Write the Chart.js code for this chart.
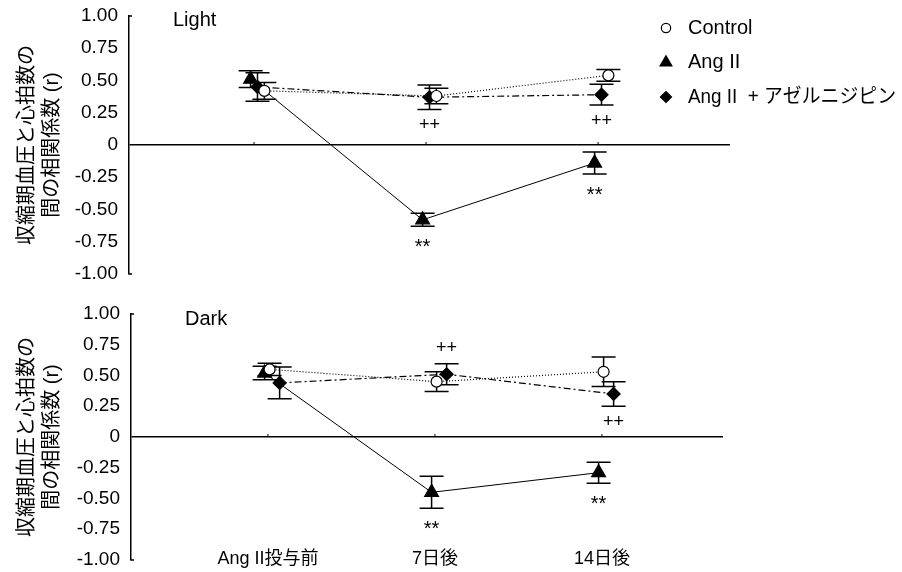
<!DOCTYPE html>
<html lang="ja">
<head>
  <meta charset="UTF-8">
  <title>収縮期血圧と心拍数の相関係数</title>
  <script src="https://cdn.jsdelivr.net/npm/chart.js"></script>
  <style>
    body { margin: 0; background: #fff; }
    .panel { position: absolute; left: 0; width: 902px; height: 286px; }
    #topPanel { top: 0; }
    #bottomPanel { top: 286px; }
  </style>
</head>
<body>
  <div class="panel" id="topPanel"><canvas id="lightChart" width="902" height="286"></canvas></div>
  <div class="panel" id="bottomPanel"><canvas id="darkChart" width="902" height="286"></canvas></div>

  <script>
    // categories and labels
    const categories = ['Ang II投与前', '7日後', '14日後'];
    const seriesNames = ['Control', 'Ang II', 'Ang II  + アゼルニジピン'];
    const yTicks = [1, 0.75, 0.5, 0.25, 0, -0.25, -0.5, -0.75, -1];
    const yTickLabels = ['1.00', '0.75', '0.50', '0.25', '0', '-0.25', '-0.50', '-0.75', '-1.00'];
    const yTitle = ['収縮期血圧と心拍数の', '間の相関係数 (r)'];

    // Light period: means and error bars
    const lightControl = [0.42, 0.38, 0.54];
    const lightControlErr = [0.065, 0.06, 0.045];
    const lightAngII = [0.51, -0.58, -0.14];
    const lightAngIIErr = [0.065, 0.05, 0.085];
    const lightAzel = [0.45, 0.37, 0.39];
    const lightAzelErr = [0.11, 0.095, 0.08];

    // Dark period
    const darkControl = [0.55, 0.45, 0.53];
    const darkControlErr = [0.05, 0.08, 0.12];
    const darkAngII = [0.52, -0.45, -0.29];
    const darkAngIIErr = [0.055, 0.13, 0.085];
    const darkAzel = [0.44, 0.51, 0.35];
    const darkAzelErr = [0.13, 0.085, 0.10];

    // significance marks: series index, category index, text, side of error bar
    const lightMarks = [
      { series: 2, cat: 1, text: '++', side: 'below' },
      { series: 1, cat: 1, text: '**', side: 'below' },
      { series: 2, cat: 2, text: '++', side: 'below' },
      { series: 1, cat: 2, text: '**', side: 'below' }
    ];
    const darkMarks = [
      { series: 2, cat: 1, text: '++', side: 'above' },
      { series: 1, cat: 1, text: '**', side: 'below' },
      { series: 2, cat: 2, text: '++', side: 'below' },
      { series: 1, cat: 2, text: '**', side: 'below' }
    ];

    const FONT = '"Liberation Sans", "Noto Sans CJK JP", sans-serif';

    // marker / line look per series
    const seriesStyle = [
      { pointStyle: 'circle', radius: 5.5, fill: '#fff', dash: [1, 2] },
      { pointStyle: 'triangle', radius: 8, fill: '#000', dash: [] },
      { pointStyle: 'rectRot', radius: 6.5, fill: '#000', dash: [7, 3, 2, 3] }
    ];

    // draws error bars, zero-line ticks, marks, panel label, legend, x labels
    const panelPlugin = {
      id: 'panelPlugin',
      beforeDatasetsDraw(chart) {
        const ctx = chart.ctx;
        const y = chart.scales.y;
        ctx.save();
        ctx.strokeStyle = '#000';
        ctx.lineWidth = 1.5;
        chart.data.datasets.forEach((ds, di) => {
          const meta = chart.getDatasetMeta(di);
          meta.data.forEach((pt, i) => {
            const v = ds.data[i].y, e = ds.errors[i];
            const top = y.getPixelForValue(v + e), bot = y.getPixelForValue(v - e);
            ctx.beginPath();
            ctx.moveTo(pt.x, top); ctx.lineTo(pt.x, bot);
            ctx.moveTo(pt.x - 12, top); ctx.lineTo(pt.x + 12, top);
            ctx.moveTo(pt.x - 12, bot); ctx.lineTo(pt.x + 12, bot);
            ctx.stroke();
          });
        });
        // small category ticks on the zero line
        const x = chart.scales.x;
        const y0 = y.getPixelForValue(0);
        ctx.lineWidth = 1;
        categories.forEach((c, i) => {
          const px = x.getPixelForValue(i);
          ctx.beginPath(); ctx.moveTo(px, y0); ctx.lineTo(px, y0 - 3); ctx.stroke();
        });
        // small stubs at the axis ends
        const ca = chart.chartArea;
        ctx.lineWidth = 1.5;
        ctx.beginPath();
        ctx.moveTo(ca.left, ca.top); ctx.lineTo(ca.left + 3, ca.top);
        ctx.moveTo(ca.left, ca.bottom); ctx.lineTo(ca.left + 3, ca.bottom);
        ctx.stroke();
        ctx.restore();
      },
      afterDatasetsDraw(chart, args, opts) {
        const ctx = chart.ctx;
        const y = chart.scales.y;
        ctx.save();
        ctx.fillStyle = '#000';
        ctx.textAlign = 'center';
        ctx.textBaseline = 'middle';
        opts.marks.forEach(m => {
          const ds = chart.data.datasets[m.series];
          const pt = chart.getDatasetMeta(m.series).data[m.cat];
          const v = ds.data[m.cat].y, e = ds.errors[m.cat];
          let py = m.side === 'below' ? y.getPixelForValue(v - e) + 16 : y.getPixelForValue(v + e) - 16;
          if (m.text === '**') {
            ctx.font = '20px ' + FONT;
            py += 5;
          } else {
            ctx.font = '18px ' + FONT;
          }
          ctx.fillText(m.text, pt.x, py);
        });

        // panel label
        ctx.textAlign = 'left';
        ctx.font = '20px ' + FONT;
        ctx.fillText(opts.label, opts.labelX, opts.labelY);

        // legend
        if (opts.legend) {
          chart.data.datasets.forEach((ds, di) => {
            const st = seriesStyle[di];
            const ly = 28 + di * 34.5;
            ctx.fillStyle = st.fill;
            ctx.strokeStyle = '#000';
            ctx.lineWidth = 1.2;
            Chart.helpers.drawPoint(ctx, { pointStyle: st.pointStyle, radius: st.radius * 0.85, borderWidth: 1.2, rotation: 0 }, 666, ly);
            ctx.fillStyle = '#000';
            ctx.font = '20px ' + FONT;
            ctx.fillText(seriesNames[di], 688, ly, 208);
          });
        }

        // category labels
        if (opts.xLabels) {
          const x = chart.scales.x;
          ctx.textAlign = 'center';
          ctx.font = '18px ' + FONT;
          categories.forEach((c, i) => {
            ctx.fillText(c, x.getPixelForValue(i), chart.chartArea.bottom - 1);
          });
        }
        ctx.restore();
      }
    };

    function makePanel(id, values, errors, jitter, layout, extra) {
      const datasets = values.map((vals, si) => {
        const st = seriesStyle[si];
        return {
          label: seriesNames[si],
          data: vals.map((v, i) => ({ x: i + jitter[si], y: v })),
          errors: errors[si],
          borderColor: '#000',
          borderWidth: si === 1 ? 1 : 1.2,
          borderDash: st.dash,
          pointStyle: st.pointStyle,
          pointRadius: st.radius,
          pointBackgroundColor: st.fill,
          pointBorderColor: '#000',
          pointBorderWidth: 1.2,
          tension: 0,
          fill: false,
          clip: false
        };
      });

      return new Chart(document.getElementById(id), {
        type: 'line',
        data: { datasets },
        options: {
          responsive: false,
          animation: false,
          events: [],
          layout: { padding: { top: layout.top, bottom: layout.bottom, left: 0, right: 902 - layout.right } },
          plugins: {
            legend: { display: false },
            tooltip: { enabled: false },
            panelPlugin: extra
          },
          scales: {
            x: { type: 'linear', display: false, min: layout.xMin, max: layout.xMax },
            y: {
              min: -1, max: 1,
              afterFit(s) {
                s.width = layout.axisX;
                s.paddingTop = 0;
                s.paddingBottom = 0;
              },
              afterBuildTicks(s) { s.ticks = yTicks.map(v => ({ value: v })); },
              ticks: {
                callback: v => yTickLabels[yTicks.indexOf(v)],
                color: '#000',
                font: { family: FONT, size: 19 },
                padding: 11
              },
              grid: {
                drawTicks: false,
                color: c => (c.tick && c.tick.value === 0) ? '#000' : 'rgba(0,0,0,0)',
                lineWidth: 1.5
              },
              border: { color: '#000', width: 1.5 },
              title: {
                display: true,
                text: yTitle,
                color: '#000',
                font: { family: FONT, size: 20, lineHeight: 1.25 },
                padding: { top: 15, bottom: 0 }
              }
            }
          }
        },
        plugins: [panelPlugin]
      });
    }

    makePanel('lightChart',
      [lightControl, lightAngII, lightAzel],
      [lightControlErr, lightAngIIErr, lightAzelErr],
      [0.06, -0.02, 0.02],
      { top: 16, bottom: 12, right: 730, axisX: 129, xMin: -0.727, xMax: 2.767 },
      { marks: lightMarks, label: 'Light', labelX: 173, labelY: 20, legend: true, xLabels: false });

    makePanel('darkChart',
      [darkControl, darkAngII, darkAzel],
      [darkControlErr, darkAngIIErr, darkAzelErr],
      [0.01, -0.02, 0.07],
      { top: 28, bottom: 12, right: 723, axisX: 131, xMin: -0.82, xMax: 2.725 },
      { marks: darkMarks, label: 'Dark', labelX: 185, labelY: 33, legend: false, xLabels: true });
  </script>
</body>
</html>
